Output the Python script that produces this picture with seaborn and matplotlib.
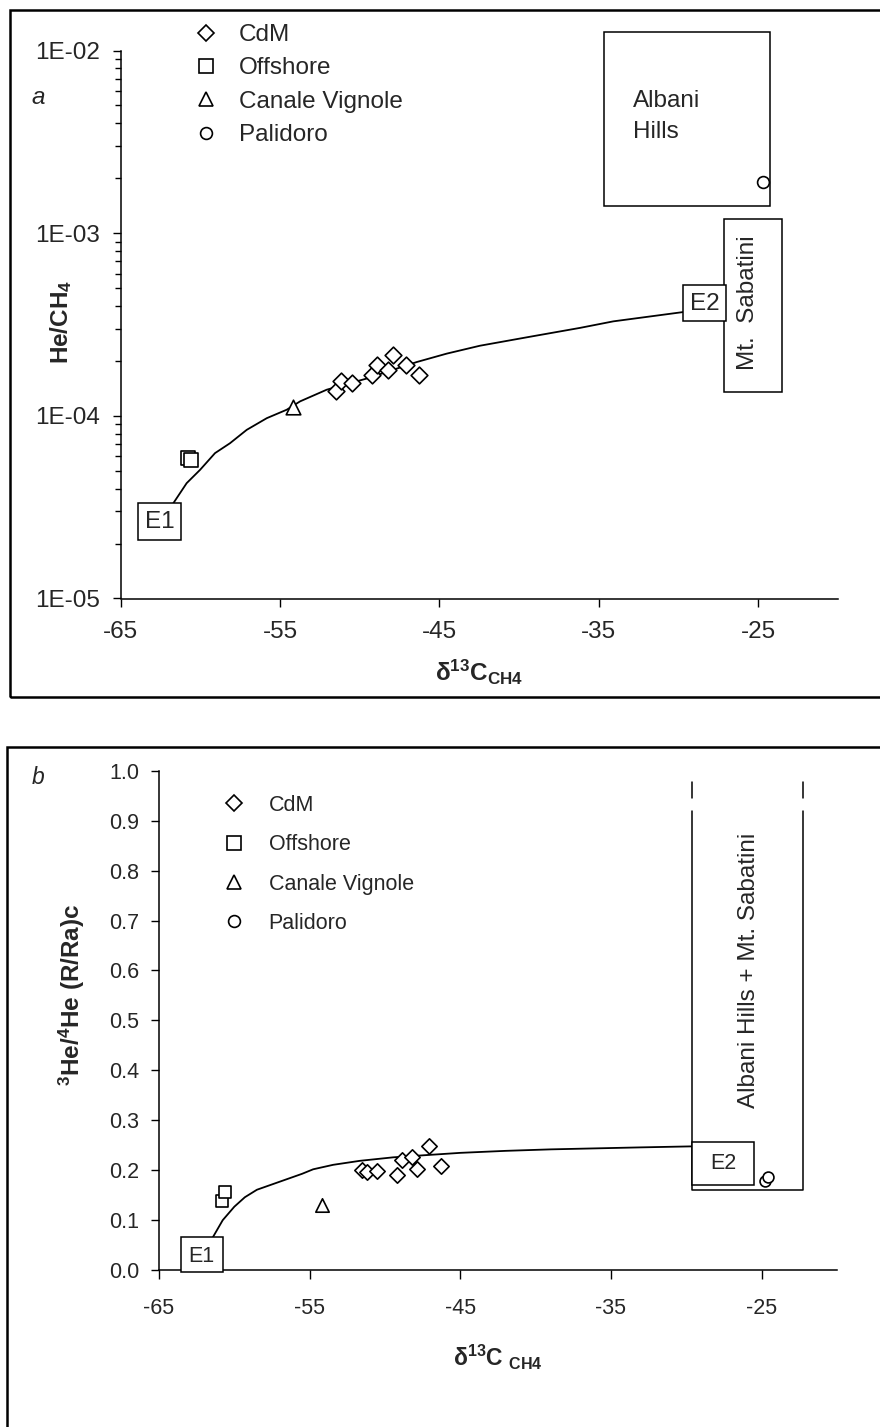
import numpy as np
import matplotlib
matplotlib.use("Agg")
import matplotlib.pyplot as plt
from matplotlib.patches import Rectangle
from matplotlib.lines import Line2D
from matplotlib.ticker import FixedLocator, FuncFormatter, LogLocator, NullFormatter, MultipleLocator
import seaborn as sns

sns.set_theme(style="ticks")
plt.rcParams["font.family"] = ["Liberation Sans", "DejaVu Sans"]
plt.rcParams["mathtext.fontset"] = "custom"
plt.rcParams["mathtext.rm"] = "Liberation Sans"
plt.rcParams["mathtext.bf"] = "Liberation Sans:bold"
plt.rcParams["mathtext.it"] = "Liberation Sans:italic"
plt.rcParams["axes.unicode_minus"] = False

# ---- sample data -------------------------------------------------------
cdm_d13c = [-51.5, -51.2, -50.5, -49.2, -48.9, -48.2, -47.9, -47.1, -46.3]
cdm_he_ch4 = [1.37e-4, 1.56e-4, 1.52e-4, 1.68e-4, 1.90e-4, 1.79e-4, 2.14e-4, 1.90e-4, 1.68e-4]
cdm_rra = [0.200, 0.195, 0.197, 0.190, 0.220, 0.225, 0.202, 0.248, 0.208]

off_d13c = [-60.8, -60.6]
off_he_ch4 = [5.9e-5, 5.7e-5]
off_rra = [0.138, 0.155]

cv_d13c = [-54.2]
cv_he_ch4 = [1.12e-4]
cv_rra = [0.130]

pal_d13c_he = [-24.7]
pal_he_ch4 = [1.90e-3]
pal_d13c_r = [-24.8, -24.6]
pal_rra = [0.178, 0.185]

# mixing curve E1 -> E2, He/CH4 vs d13C
mix_a_d13c = [-61.7, -60.86, -60.02, -59.08, -58.14, -57.09, -55.83, -54.58, -53.74,
              -52.07, -49.56, -46.42, -44.54, -42.45, -39.31, -36.17, -34.08, -29.89, -29.68]
mix_a_he_ch4 = [3.32e-5, 4.28e-5, 5.06e-5, 6.25e-5, 7.08e-5, 8.38e-5, 9.71e-5, 1.08e-4, 1.20e-4,
                1.39e-4, 1.60e-4, 1.97e-4, 2.19e-4, 2.42e-4, 2.71e-4, 3.03e-4, 3.29e-4, 3.68e-4, 3.70e-4]

# mixing curve E1 -> E2, R/Ra vs d13C
mix_b_d13c = [-61.42, -60.77, -60.0, -59.3, -58.5, -57.0, -55.5, -54.77, -53.44, -51.67,
              -49.46, -47.5, -45.0, -42.0, -39.0, -36.0, -33.0, -29.65]
mix_b_rra = [0.065, 0.099, 0.126, 0.145, 0.160, 0.176, 0.192, 0.201, 0.210, 0.218,
             0.225, 0.229, 0.234, 0.238, 0.241, 0.243, 0.245, 0.247]

group_names = ["CdM", "Offshore", "Canale Vignole", "Palidoro"]
group_markers = ["D", "s", "^", "o"]
group_msize = [8.5, 9.5, 10.5, 8.5]

x_ticks = [-65, -55, -45, -35, -25]

FIG_W, FIG_H = 880, 1427
fig = plt.figure(figsize=(FIG_W / 100, FIG_H / 100), dpi=100)


def fig_rect(x0, y0, x1, y1):
    """Pixel box (top-left origin) -> figure fraction [l, b, w, h]."""
    return [x0 / FIG_W, 1 - y1 / FIG_H, (x1 - x0) / FIG_W, (y1 - y0) / FIG_H]


# outer frames
fig.patches.append(Rectangle((10 / FIG_W, 1 - 697 / FIG_H), 1.2, (697 - 10) / FIG_H,
                             transform=fig.transFigure, fill=False, ec="black", lw=1.8))
fig.patches.append(Rectangle((7 / FIG_W, -0.1), 1.2, 0.1 + 1 - 747 / FIG_H,
                             transform=fig.transFigure, fill=False, ec="black", lw=1.8))

ax1 = fig.add_axes(fig_rect(120.7, 50.5, 837.6, 598.5))
ax2 = fig.add_axes(fig_rect(159, 771, 837, 1269.5))

point_kw = dict(color="white", edgecolor="black", linewidth=1.2, zorder=5, legend=False)

# ---------------- panel a ----------------
FS_A = 17.5
sns.lineplot(x=mix_a_d13c, y=mix_a_he_ch4, sort=False, estimator=None, color="black",
             lw=1.3, ax=ax1, zorder=3)
for xs, ys, m, ms in zip([cdm_d13c, off_d13c, cv_d13c, pal_d13c_he],
                         [cdm_he_ch4, off_he_ch4, cv_he_ch4, pal_he_ch4],
                         group_markers, group_msize):
    sns.scatterplot(x=xs, y=ys, marker=m, s=ms ** 2, ax=ax1, **point_kw)

ax1.set_yscale("log")
ax1.set_xlim(-65, -20)
ax1.set_ylim(1e-5, 1e-2)
ax1.xaxis.set_major_locator(FixedLocator(x_ticks))
ax1.yaxis.set_major_locator(FixedLocator([1e-5, 1e-4, 1e-3, 1e-2]))
ax1.yaxis.set_major_formatter(FuncFormatter(lambda v, p: "1E%03d" % int(round(np.log10(v)))))
ax1.yaxis.set_minor_locator(LogLocator(base=10, subs=np.arange(2, 10)))
ax1.yaxis.set_minor_formatter(NullFormatter())
ax1.tick_params(axis="y", which="major", direction="out", length=6, width=1.0,
                labelsize=FS_A, pad=9, color="black")
ax1.tick_params(axis="y", which="minor", direction="out", length=4, width=1.0, color="black")
ax1.tick_params(axis="x", which="major", direction="out", length=6, width=1.0,
                labelsize=FS_A, pad=10, color="black")
sns.despine(ax=ax1)
for s in ("left", "bottom"):
    ax1.spines[s].set_linewidth(1.1)
    ax1.spines[s].set_color("black")

ax1.set_xlabel(r"$\mathbf{\delta^{13}C_{CH4}}$", fontsize=FS_A)
ax1.xaxis.set_label_coords(0.5, -0.135)
ax1.xaxis.label.set_va("center")
ax1.set_ylabel(r"$\mathbf{He/CH_{4}}$", fontsize=FS_A)
ax1.yaxis.set_label_coords(-0.083, 0.505)
ax1.yaxis.label.set_va("center")

# end-member and field boxes
ax1.add_patch(Rectangle((-34.65, 1.40e-3), 10.42, 1.26e-2 - 1.40e-3, fill=False,
                        ec="black", lw=1.1, clip_on=False, zorder=2))
ax1.text(-32.84, 4.93e-3, "Albani", fontsize=FS_A, va="baseline", ha="left")
ax1.text(-32.84, 3.33e-3, "Hills", fontsize=FS_A, va="baseline", ha="left")
ax1.add_patch(Rectangle((-27.1, 1.35e-4), 3.6, 1.19e-3 - 1.35e-4, fc="white",
                        ec="black", lw=1.1, clip_on=False, zorder=2))
ax1.text(-25.6, 4.16e-4, "Mt.  Sabatini", fontsize=FS_A, rotation=90,
         ha="center", va="center", zorder=3)
ax1.add_patch(Rectangle((-29.68, 3.29e-4), 2.68, 5.22e-4 - 3.29e-4, fc="white",
                        ec="black", lw=1.1, clip_on=False, zorder=4))
ax1.text(-28.34, 4.12e-4, "E2", fontsize=FS_A, ha="center", va="center", zorder=6)
ax1.add_patch(Rectangle((-63.9, 2.09e-5), 2.67, 3.32e-5 - 2.09e-5, fc="white",
                        ec="black", lw=1.1, clip_on=False, zorder=4))
ax1.text(-62.57, 2.62e-5, "E1", fontsize=FS_A, ha="center", va="center", zorder=6)


def legend_handles():
    return [Line2D([], [], marker=m, ls="none", mfc="white", mec="black", mew=1.2, ms=ms)
            for m, ms in zip(group_markers, group_msize)]


ax1.legend(legend_handles(), group_names, loc="upper left",
           bbox_to_anchor=(194 / FIG_W, 1 - 24 / FIG_H), bbox_transform=fig.transFigure,
           frameon=False, borderpad=0, borderaxespad=0, handlelength=1.0,
           handletextpad=0.86, labelspacing=0.47, fontsize=FS_A)

fig.text(38 / FIG_W, 1 - 97 / FIG_H, "a", fontsize=FS_A, style="italic",
         ha="center", va="center")

# ---------------- panel b ----------------
FS_B = 15.5
sns.lineplot(x=mix_b_d13c, y=mix_b_rra, sort=False, estimator=None, color="black",
             lw=1.3, ax=ax2, zorder=3)
for xs, ys, m, ms in zip([cdm_d13c, off_d13c, cv_d13c, pal_d13c_r],
                         [cdm_rra, off_rra, cv_rra, pal_rra],
                         group_markers, group_msize):
    sns.scatterplot(x=xs, y=ys, marker=m, s=(ms * 0.92) ** 2, ax=ax2, **point_kw)

ax2.set_xlim(-65, -20)
ax2.set_ylim(0, 1.0)
ax2.xaxis.set_major_locator(FixedLocator(x_ticks))
ax2.yaxis.set_major_locator(MultipleLocator(0.1))
ax2.yaxis.set_major_formatter(FuncFormatter(lambda v, p: "%.1f" % v))
ax2.tick_params(axis="y", which="major", direction="out", length=6, width=1.0,
                labelsize=FS_B, pad=8, color="black")
ax2.tick_params(axis="x", which="major", direction="out", length=6.5, width=1.0,
                labelsize=FS_B, pad=14, color="black")
sns.despine(ax=ax2)
for s in ("left", "bottom"):
    ax2.spines[s].set_linewidth(1.1)
    ax2.spines[s].set_color("black")

ax2.set_xlabel(r"$\mathbf{\delta^{13}C\ _{CH4}}$", fontsize=FS_B + 1)
ax2.xaxis.set_label_coords(0.5, -0.1755)
ax2.xaxis.label.set_va("center")
ax2.set_ylabel(r"$\mathbf{^{3}He/^{4}He\ (R/Ra)c}$", fontsize=17.5)
ax2.yaxis.set_label_coords(-0.128, 0.55)
ax2.yaxis.label.set_va("center")

# Albani Hills + Mt. Sabatini field (open at the top, dashed continuation)
field_x0, field_x1, field_y0, field_y1 = -29.65, -22.27, 0.16, 0.92
ax2.plot([field_x0, field_x0, field_x1, field_x1], [field_y1, field_y0, field_y0, field_y1],
         color="black", lw=1.1, zorder=2, clip_on=False)
ax2.plot([field_x0, field_x0], [0.946, 0.978], color="black", lw=1.1, clip_on=False)
ax2.plot([field_x1, field_x1], [0.946, 0.978], color="black", lw=1.1, clip_on=False)
ax2.text(-25.81, 0.60, "Albani Hills + Mt. Sabatini", fontsize=17.5, rotation=90,
         ha="center", va="center")
ax2.add_patch(Rectangle((-29.65, 0.17), 4.15, 0.085, fc="white", ec="black", lw=1.1,
                        clip_on=False, zorder=4))
ax2.text(-27.57, 0.212, "E2", fontsize=FS_B, ha="center", va="center", zorder=6)
ax2.add_patch(Rectangle((-63.57, -0.005), 2.8, 0.07, fc="white", ec="black", lw=1.1,
                        clip_on=False, zorder=4))
ax2.text(-62.17, 0.027, "E1", fontsize=FS_B, ha="center", va="center", zorder=6)

ax2.legend(legend_handles(), group_names, loc="upper left",
           bbox_to_anchor=(223.6 / FIG_W, 1 - 795 / FIG_H), bbox_transform=fig.transFigure,
           frameon=False, borderpad=0, borderaxespad=0, handlelength=1.0,
           handletextpad=1.09, labelspacing=0.85, fontsize=FS_B)

fig.text(38 / FIG_W, 1 - 778 / FIG_H, "b", fontsize=FS_B + 1, style="italic",
         ha="center", va="center")

fig.savefig("out.png", dpi=100, facecolor="white")
